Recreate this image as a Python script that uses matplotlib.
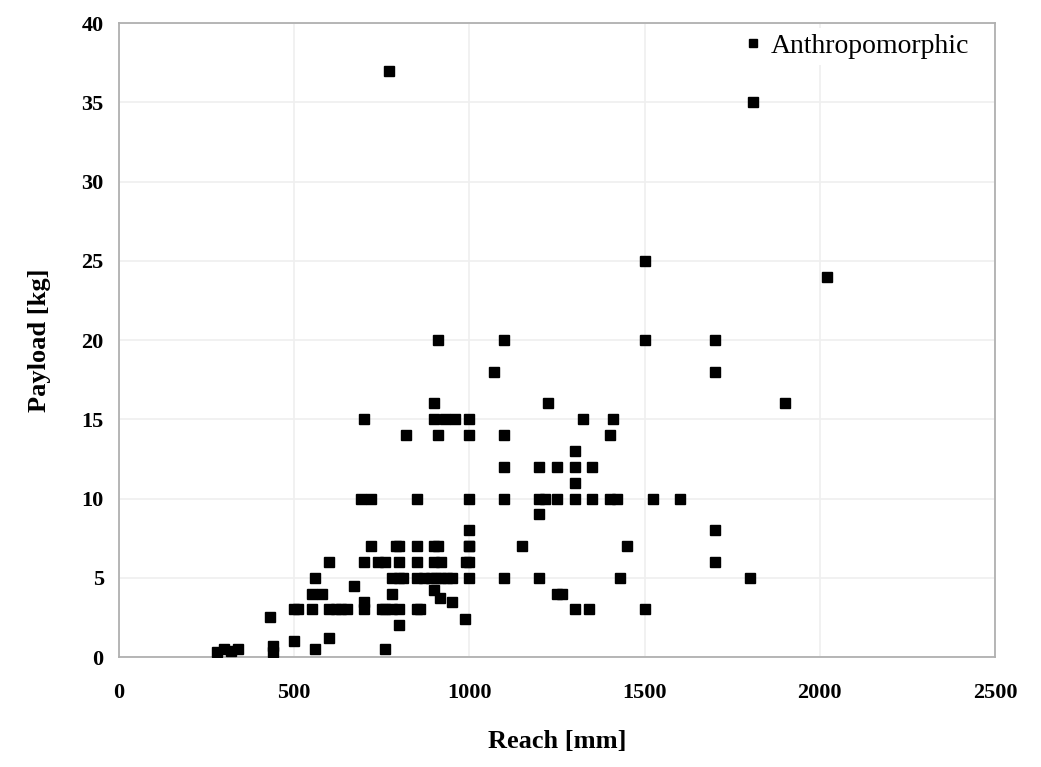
import matplotlib
matplotlib.use("Agg")
import matplotlib.pyplot as plt

reach_mm = [
    280, 300, 320, 340,
    430, 440, 440,
    500, 510, 500, 550, 550, 560, 560, 580,
    600, 600, 600, 620, 635, 650, 670,
    700, 700, 700, 690, 700, 720, 720,
    740, 760, 750, 760, 780, 800, 760, 780, 800, 780, 800, 810,
    790, 800, 800, 850, 850, 850, 860, 850, 870, 890, 905, 920, 935, 950,
    900, 920, 950, 900, 915, 900, 910, 910, 900, 900, 930, 960, 820,
    850, 990, 988, 1000, 1000, 1000, 1000, 1000, 1000, 1000, 1000, 770,
    910, 1070, 1100, 1100, 1100, 1100, 1100, 1150,
    1200, 1200, 1215, 1200, 1200, 1225, 1250, 1250, 1265, 1250,
    1300, 1300, 1300, 1300, 1300, 1325, 1340, 1350, 1350,
    1400, 1420, 1400, 1410, 1430, 1450, 1500, 1500, 1500, 1525, 1600,
    1700, 1700, 1700, 1700, 1800, 1810, 1900, 2020,
]
payload_kg = [
    0.3, 0.5, 0.4, 0.5,
    2.5, 0.7, 0.3,
    1.0, 3.0, 3.0, 3.0, 4.0, 0.5, 5.0, 4.0,
    1.2, 6.0, 3.0, 3.0, 3.0, 3.0, 4.5,
    6.0, 3.0, 3.5, 10.0, 15.0, 7.0, 10.0,
    6.0, 6.0, 3.0, 0.5, 3.0, 3.0, 3.0, 4.0, 2.0, 5.0, 5.0, 5.0,
    7.0, 7.0, 6.0, 7.0, 6.0, 3.0, 3.0, 5.0, 5.0, 5.0, 5.0, 5.0, 5.0, 5.0,
    7.0, 6.0, 3.5, 4.2, 3.7, 15.0, 14.0, 7.0, 6.0, 16.0, 15.0, 15.0, 14.0,
    10.0, 6.0, 2.4, 5.0, 7.0, 8.0, 10.0, 14.0, 15.0, 6.0, 7.0, 37.0,
    20.0, 18.0, 20.0, 14.0, 12.0, 10.0, 5.0, 7.0,
    12.0, 10.0, 10.0, 9.0, 5.0, 16.0, 12.0, 10.0, 4.0, 4.0,
    13.0, 12.0, 11.0, 10.0, 3.0, 15.0, 3.0, 12.0, 10.0,
    10.0, 10.0, 14.0, 15.0, 5.0, 7.0, 25.0, 20.0, 3.0, 10.0, 10.0,
    20.0, 18.0, 8.0, 6.0, 5.0, 35.0, 16.0, 24.0,
]
series_name = "Anthropomorphic"
x_ticks = [0, 500, 1000, 1500, 2000, 2500]
y_ticks = [0, 5, 10, 15, 20, 25, 30, 35, 40]

plt.rcParams['font.family'] = ['Liberation Serif', 'DejaVu Serif']

fig = plt.figure(figsize=(10.41, 7.67), dpi=100)
ax = fig.add_axes([0.1143, 0.1434, 0.8415, 0.8266])

ax.plot(reach_mm, payload_kg, linestyle='none', marker='s', markersize=7.0,
        color='black', label=series_name, zorder=3)

ax.set_xlim(0, 2500)
ax.set_ylim(0, 40)
ax.set_xticks(x_ticks)
ax.set_yticks(y_ticks)
ax.grid(True, color='#efefef', linewidth=1.2, zorder=0)
ax.set_axisbelow(True)
for s in ax.spines.values():
    s.set_color('#b0b0b0')
    s.set_linewidth(1.3)
ax.tick_params(axis='both', length=0, labelsize=16)
ax.tick_params(axis='x', pad=19)
ax.tick_params(axis='y', pad=11)
for lbl in ax.get_xticklabels() + ax.get_yticklabels():
    lbl.set_fontweight('bold')

ax.set_xlabel('Reach [mm]', fontsize=19, fontweight='bold', labelpad=19)
ax.set_ylabel('Payload [kg]', fontsize=19, fontweight='bold', labelpad=22)

leg = ax.legend(loc='upper right', bbox_to_anchor=(0.977, 0.992),
                fontsize=20, frameon=True, framealpha=1,
                facecolor='white', edgecolor='none', handletextpad=0.15,
                markerscale=0.85, borderaxespad=0.0, handlelength=1.0,
                borderpad=0.2)

fig.savefig('out.png', dpi=100)
